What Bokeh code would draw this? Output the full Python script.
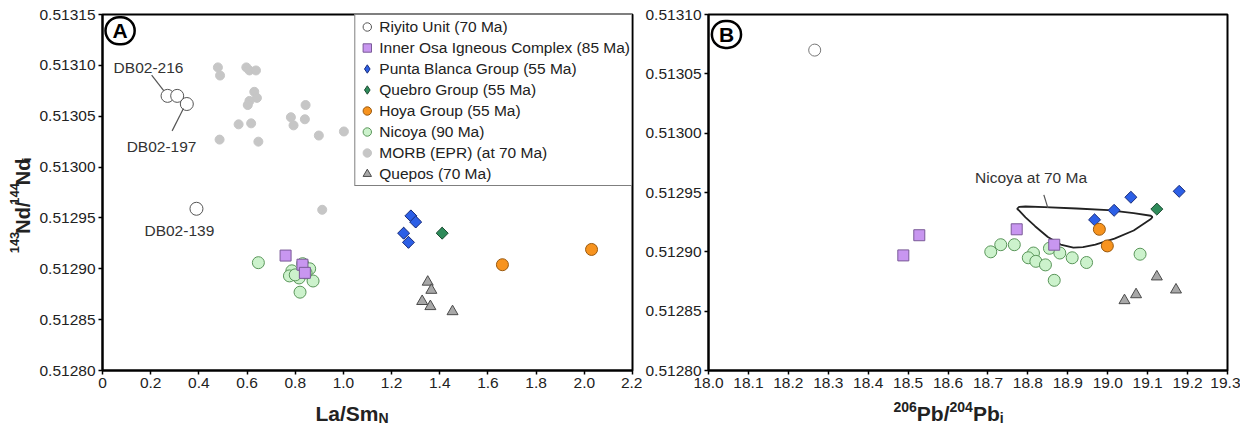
import math
from bokeh.plotting import figure
from bokeh.models import (Range1d, FixedTicker, PrintfTickFormatter, CustomJSTickFormatter,
                          Label, Legend, LegendItem, Arrow)
from bokeh.layouts import row, column
from bokeh.embed import file_html
from bokeh.resources import INLINE

# ---------------- data ----------------
A_X_TICKS = [0, 0.2, 0.4, 0.6, 0.8, 1.0, 1.2, 1.4, 1.6, 1.8, 2.0, 2.2]
A_Y_TICKS = [0.51280, 0.51285, 0.51290, 0.51295, 0.51300, 0.51305, 0.51310, 0.51315]
B_X_TICKS = [18.0, 18.1, 18.2, 18.3, 18.4, 18.5, 18.6, 18.7, 18.8, 18.9, 19.0, 19.1, 19.2, 19.3]
B_Y_TICKS = [0.51280, 0.51285, 0.51290, 0.51295, 0.51300, 0.51305, 0.51310]

LEGEND_LABELS = ["Riyito Unit (70 Ma)", "Inner Osa Igneous Complex (85 Ma)",
                 "Punta Blanca Group (55 Ma)", "Quebro Group (55 Ma)", "Hoya Group (55 Ma)",
                 "Nicoya (90 Ma)", "MORB (EPR) (at 70 Ma)", "Quepos (70 Ma)"]

# Panel A: La/Sm_N vs 143Nd/144Nd_i
RIYITO_A_X = [0.27, 0.31, 0.35, 0.39]
RIYITO_A_Y = [0.513070, 0.513070, 0.513062, 0.512959]
INNEROSA_A_X = [0.76, 0.83, 0.84]
INNEROSA_A_Y = [0.512913, 0.512904, 0.512896]
PUNTA_A_X = [1.28, 1.30, 1.25, 1.27]
PUNTA_A_Y = [0.512952, 0.512946, 0.512935, 0.512926]
QUEBRO_A_X = [1.41]
QUEBRO_A_Y = [0.512935]
HOYA_A_X = [1.66, 2.03]
HOYA_A_Y = [0.512904, 0.512919]
NICOYA_A_X = [0.647, 0.786, 0.776, 0.816, 0.831, 0.860, 0.874, 0.820, 0.800, 0.845]
NICOYA_A_Y = [0.512906, 0.512898, 0.512893, 0.512891, 0.512905, 0.512900, 0.512888, 0.512877,
              0.512894, 0.512896]
MORB_A_X = [0.479, 0.488, 0.597, 0.610, 0.637, 0.630, 0.641, 0.610, 0.603, 0.565, 0.617, 0.486,
            0.647, 0.782, 0.793, 0.843, 0.840, 0.898, 1.002, 0.912]
MORB_A_Y = [0.513098, 0.513090, 0.513098, 0.513095, 0.513095, 0.513074, 0.513068, 0.513065,
            0.513061, 0.513042, 0.513043, 0.513027, 0.513025, 0.513049, 0.513041, 0.513061,
            0.513047, 0.513031, 0.513035, 0.512958]
QUEPOS_A_X = [1.350, 1.365, 1.327, 1.361, 1.453]
QUEPOS_A_Y = [0.512887, 0.512879, 0.512868, 0.512863, 0.512858]

# Panel B: 206Pb/204Pb_i vs 143Nd/144Nd_i
RIYITO_B_X = [18.266]
RIYITO_B_Y = [0.513070]
INNEROSA_B_X = [18.488, 18.528, 18.772, 18.866]
INNEROSA_B_Y = [0.512897, 0.512914, 0.512919, 0.512906]
PUNTA_B_X = [18.967, 19.016, 19.058, 19.179]
PUNTA_B_Y = [0.512927, 0.512935, 0.512946, 0.512951]
QUEBRO_B_X = [19.123]
QUEBRO_B_Y = [0.512936]
HOYA_B_X = [18.979, 18.999]
HOYA_B_Y = [0.512919, 0.512905]
NICOYA_B_X = [18.707, 18.732, 18.766, 18.814, 18.801, 18.820, 18.844, 18.854, 18.880, 18.911,
              18.947, 18.866, 19.081]
NICOYA_B_Y = [0.512900, 0.512906, 0.512906, 0.512899, 0.512895, 0.512892, 0.512889, 0.512903,
              0.512899, 0.512895, 0.512891, 0.512876, 0.512898]
QUEPOS_B_X = [19.123, 19.171, 19.071, 19.042]
QUEPOS_B_Y = [0.512879, 0.512868, 0.512864, 0.512859]

# "Nicoya at 70 Ma" envelope
NICOYA70_X = [18.773, 18.777, 18.794, 18.818, 18.850, 18.882, 18.914, 18.938, 18.969, 19.017,
              19.065, 19.108, 19.112, 19.108, 19.065, 19.001, 18.922, 18.842, 18.794, 18.778]
NICOYA70_Y = [0.5129362, 0.5129351, 0.5129291, 0.5129216, 0.5129125, 0.5129061, 0.5129036,
              0.5129039, 0.5129061, 0.5129111, 0.5129180, 0.5129277, 0.5129293, 0.5129304,
              0.5129326, 0.5129351, 0.5129365, 0.5129376, 0.5129382, 0.5129379]

# ---------------- styling ----------------
FONT = "Liberation Sans"
TXT = "#222222"
ROW_H = 395
TITLE_H = 30
STY = {
    "riyito": dict(marker="circle", size=13, fill_color="white", line_color="#555555"),
    "innerosa": dict(marker="square", size=11, fill_color="#c896f0", line_color="#7a5a98"),
    "punta": dict(marker="square", size=8.5, angle=math.pi / 4, fill_color="#2c5fe6", line_color="#1a2d7a"),
    "quebro": dict(marker="square", size=8.5, angle=math.pi / 4, fill_color="#2e8b5a", line_color="#1d4d33"),
    "hoya": dict(marker="circle", size=12, fill_color="#f7931e", line_color="#9a5a10"),
    "nicoya": dict(marker="circle", size=12, fill_color="#ccf2cc", line_color="#5a965a"),
    "morb": dict(marker="circle", size=9, fill_color="#c6c6c6", line_color="#c6c6c6"),
    "quepos": dict(marker="triangle", size=11, fill_color="#a8a8a8", line_color="#4a4a4a"),
}

BOLD_W = {"0": 556, "1": 556, "2": 556, "3": 556, "4": 556, "5": 556, "6": 556, "7": 556,
          "8": 556, "9": 556, "N": 722, "d": 611, "/": 278, "i": 278, "L": 611, "a": 556,
          "S": 667, "m": 889, "P": 667, "b": 611}


def text_w(s, size):
    return sum(BOLD_W.get(c, 600) for c in s) / 1000.0 * size


def compose(p, pieces, x0, y0, vertical=False):
    pos = 0.0
    for txt, size, shift in pieces:
        kw = dict(text=txt, text_font=FONT, text_font_size=f"{size}px",
                  text_font_style="bold", text_color=TXT,
                  text_align="left", text_baseline="alphabetic")
        if vertical:
            lbl = Label(x=x0 - shift, y=y0 + pos, angle=math.pi / 2, **kw)
        else:
            lbl = Label(x=x0 + pos, y=y0 + shift, **kw)
        p.add_layout(lbl)
        pos += text_w(txt, size)


def strip(width, height):
    s = figure(width=width, height=height, x_range=Range1d(0, width), y_range=Range1d(0, height),
               output_backend="svg", toolbar_location=None, min_border=0,
               x_axis_type=None, y_axis_type=None)
    s.outline_line_color = None
    s.xgrid.visible = False
    s.ygrid.visible = False
    s.background_fill_color = "white"
    s.border_fill_color = "white"
    return s


def base_fig(width, xr, yr, left, right):
    p = figure(width=width, height=ROW_H, x_range=Range1d(*xr), y_range=Range1d(*yr),
               output_backend="svg", toolbar_location=None,
               min_border_left=left, min_border_right=right, min_border_top=14,
               min_border_bottom=25)
    p.xgrid.visible = False
    p.ygrid.visible = False
    p.outline_line_color = "black"
    p.outline_line_width = 2
    p.outline_line_alpha = 1
    p.background_fill_color = "white"
    p.border_fill_color = "white"
    for ax in (p.xaxis[0], p.yaxis[0]):
        ax.axis_line_color = "black"
        ax.axis_line_width = 2
        ax.major_tick_line_color = "black"
        ax.major_tick_line_width = 1.5
        ax.major_tick_out = 4
        ax.major_tick_in = 0
        ax.minor_tick_line_color = None
        ax.major_label_text_font = FONT
        ax.major_label_text_font_size = "15.5px"
        ax.major_label_text_color = TXT
        ax.major_label_standoff = 3
        ax.axis_label = None
    return p


def circled(p, letter, x, y):
    p.add_layout(Label(x=x, y=y, text=letter, text_font=FONT, text_font_size="21px",
                       text_font_style="bold", text_color="black", text_align="center",
                       text_baseline="middle", border_line_color="black",
                       border_line_width=2.5, border_radius=15,
                       padding=dict(left=7, right=7, top=2, bottom=2)))


def note(p, text, x, y):
    p.add_layout(Label(x=x, y=y, text=text, text_font=FONT, text_font_size="15.5px",
                       text_color="#333333", text_align="center", text_baseline="middle"))


def leader(p, x0, y0, x1, y1):
    p.add_layout(Arrow(end=None, x_start=x0, y_start=y0, x_end=x1, y_end=y1,
                       line_color="#555555", line_width=1.2))


def diamond_proxy(p, xs, ys, key):
    # plain (unrotated) diamond drawn underneath the rotated squares; used as legend swatch
    return p.scatter(xs, ys, marker="diamond", size=11.5, fill_color=STY[key]["fill_color"],
                     line_color=STY[key]["line_color"])


# ---------------- panel A ----------------
pa = base_fig(606, (0, 2.2), (0.51280, 0.51315), 66, 10)
pa.xaxis.ticker = FixedTicker(ticks=A_X_TICKS, minor_ticks=[])
pa.yaxis.ticker = FixedTicker(ticks=A_Y_TICKS, minor_ticks=[])
pa.xaxis.formatter = CustomJSTickFormatter(code="return tick == 0 ? '0' : tick.toFixed(1);")
pa.yaxis.formatter = PrintfTickFormatter(format="%.5f")

r_morb = pa.scatter(MORB_A_X, MORB_A_Y, **STY["morb"])
r_nic = pa.scatter(NICOYA_A_X, NICOYA_A_Y, **STY["nicoya"])
r_quep = pa.scatter(QUEPOS_A_X, QUEPOS_A_Y, **STY["quepos"])
r_riy = pa.scatter(RIYITO_A_X, RIYITO_A_Y, **STY["riyito"])
r_osa = pa.scatter(INNEROSA_A_X, INNEROSA_A_Y, **STY["innerosa"])
leg_pun = diamond_proxy(pa, PUNTA_A_X, PUNTA_A_Y, "punta")
leg_que = diamond_proxy(pa, QUEBRO_A_X, QUEBRO_A_Y, "quebro")
pa.scatter(PUNTA_A_X, PUNTA_A_Y, **STY["punta"])
pa.scatter(QUEBRO_A_X, QUEBRO_A_Y, **STY["quebro"])
r_hoy = pa.scatter(HOYA_A_X, HOYA_A_Y, **STY["hoya"])

note(pa, "DB02-216", 0.191, 0.5130975)
leader(pa, 0.204, 0.5130904, 0.254, 0.5130752)
note(pa, "DB02-197", 0.245, 0.5130201)
leader(pa, 0.289, 0.5130356, 0.336, 0.5130575)
note(pa, "DB02-139", 0.319, 0.5129379)
circled(pa, "A", 0.073, 0.513134)

legend = Legend(items=[LegendItem(label=lab, renderers=[r]) for lab, r in zip(
    LEGEND_LABELS, [r_riy, r_osa, leg_pun, leg_que, r_hoy, r_nic, r_morb, r_quep])],
    location="top_right", margin=0, padding=1, spacing=0, glyph_width=21, glyph_height=21,
    label_standoff=2, label_height=18, label_text_font=FONT, label_text_font_size="15.5px",
    label_text_color=TXT, border_line_color="black", border_line_width=1.5,
    background_fill_color="white", background_fill_alpha=1)
pa.add_layout(legend)

# ---------------- panel B ----------------
pb = base_fig(598, (18.0, 19.3), (0.51280, 0.51310), 64, 13)
pb.xaxis.ticker = FixedTicker(ticks=B_X_TICKS, minor_ticks=[])
pb.yaxis.ticker = FixedTicker(ticks=B_Y_TICKS, minor_ticks=[])
pb.xaxis.formatter = PrintfTickFormatter(format="%.1f")
pb.yaxis.formatter = PrintfTickFormatter(format="%.5f")

pb.patch(NICOYA70_X, NICOYA70_Y, fill_alpha=0, line_color="#222222", line_width=1.8)
pb.scatter(NICOYA_B_X, NICOYA_B_Y, **STY["nicoya"])
pb.scatter(QUEPOS_B_X, QUEPOS_B_Y, **STY["quepos"])
sty_rb = dict(STY["riyito"], size=12, line_color="#777777")
pb.scatter(RIYITO_B_X, RIYITO_B_Y, **sty_rb)
pb.scatter(INNEROSA_B_X, INNEROSA_B_Y, **STY["innerosa"])
pb.scatter(PUNTA_B_X, PUNTA_B_Y, **STY["punta"])
pb.scatter(QUEBRO_B_X, QUEBRO_B_Y, **STY["quebro"])
pb.scatter(HOYA_B_X, HOYA_B_Y, **STY["hoya"])

note(pb, "Nicoya at 70 Ma", 18.808, 0.512963)
leader(pb, 18.840, 0.512948, 18.850, 0.512937)
circled(pb, "B", 18.045, 0.5130832)

# ---------------- axis titles (separate strips, real text) ----------------
ylab = strip(36, ROW_H)
compose(ylab, [("143", 13, 8), ("Nd/", 20, 0), ("144", 13, 8), ("Nd", 20, 0), ("i", 13, -4)],
        22, 130, vertical=True)

xlab = strip(1240, TITLE_H)
compose(xlab, [("La/Sm", 21, 0), ("N", 14, -4)], 315, 12)
compose(xlab, [("206", 14, 7), ("Pb/", 21, 0), ("204", 14, 7), ("Pb", 21, 0), ("i", 14, -4)],
        893, 12)

layout = column(row(ylab, pa, pb), xlab)
open("out.html", "w").write(file_html(layout, INLINE))
